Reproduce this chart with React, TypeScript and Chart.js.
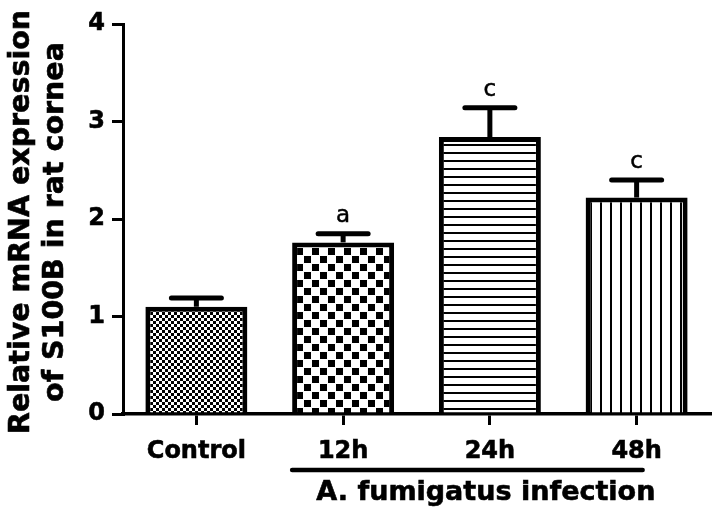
import React, { useEffect, useRef } from "react";
import { Chart, registerables } from "chart.js";

Chart.register(...registerables);

const categories = ["Control", "12h", "24h", "48h"];
const means = [1.1, 1.76, 2.84, 2.22];
const errors = [0.09, 0.09, 0.3, 0.18];
const letters = ["", "a", "c", "c"];
const yTitleLines = ["Relative mRNA expression", "of S100B in rat cornea"];
const groupLabel = "A. fumigatus infection";
const yMin = 0;
const yMax = 4;
const yStep = 1;

const FONT = "'DejaVu Sans', Verdana, sans-serif";

function makePattern(kind: string): CanvasPattern | string {
  const c = document.createElement("canvas");
  const g = c.getContext("2d");
  if (!g) return "#fff";
  if (kind === "fine") {
    c.width = 6; c.height = 6;
    g.fillStyle = "#fff"; g.fillRect(0, 0, 6, 6);
    g.fillStyle = "#000";
    g.fillRect(0, 0, 3, 3); g.fillRect(3, 3, 3, 3);
  } else if (kind === "coarse") {
    c.width = 16; c.height = 16;
    g.fillStyle = "#fff"; g.fillRect(0, 0, 16, 16);
    g.fillStyle = "#000";
    g.fillRect(0, 0, 7, 7); g.fillRect(8, 8, 7, 7);
  } else if (kind === "hlines") {
    c.width = 8; c.height = 8;
    g.fillStyle = "#fff"; g.fillRect(0, 0, 8, 8);
    g.fillStyle = "#000"; g.fillRect(0, 0, 8, 2);
  } else {
    c.width = 10; c.height = 10;
    g.fillStyle = "#fff"; g.fillRect(0, 0, 10, 10);
    g.fillStyle = "#000"; g.fillRect(0, 0, 2, 10);
  }
  const p = g.createPattern(c, "repeat");
  return p || "#fff";
}

function heavyText(ctx: CanvasRenderingContext2D, text: string, x: number, y: number, w: number) {
  ctx.lineWidth = w;
  ctx.lineJoin = "miter";
  ctx.strokeText(text, x, y);
  ctx.fillText(text, x, y);
}

export default function App() {
  const ref = useRef<HTMLCanvasElement | null>(null);
  useEffect(() => {
    if (!ref.current) return;
    const patterns = [makePattern("fine"), makePattern("coarse"), makePattern("hlines"), makePattern("vlines")];

    const overlay = {
      id: "overlay",
      afterDatasetsDraw(chart: any) {
        const ctx = chart.ctx;
        const meta = chart.getDatasetMeta(0);
        const ys = chart.scales.y;
        const xs = chart.scales.x;
        ctx.save();
        ctx.strokeStyle = "#000";
        ctx.fillStyle = "#000";
        meta.data.forEach((bar: any, i: number) => {
          const x = bar.x;
          const yTop = ys.getPixelForValue(means[i]);
          const yErr = ys.getPixelForValue(means[i] + errors[i]);
          ctx.lineWidth = 5;
          ctx.lineCap = "butt";
          ctx.beginPath();
          ctx.moveTo(x, yTop);
          ctx.lineTo(x, yErr);
          ctx.stroke();
          ctx.lineCap = "round";
          ctx.beginPath();
          ctx.moveTo(x - 25, yErr);
          ctx.lineTo(x + 25, yErr);
          ctx.stroke();
          if (letters[i]) {
            ctx.font = `23px ${FONT}`;
            ctx.textAlign = "center";
            ctx.textBaseline = "alphabetic";
            heavyText(ctx, letters[i], x, yErr - 12, 0.5);
          }
        });
        // group underline
        const x1 = xs.getPixelForValue(1) - 51;
        const x2 = xs.getPixelForValue(3) + 6;
        ctx.lineWidth = 4.5;
        ctx.lineCap = "round";
        ctx.beginPath();
        ctx.moveTo(x1, 470);
        ctx.lineTo(x2, 470);
        ctx.stroke();
        ctx.font = `bold 27px ${FONT}`;
        ctx.textAlign = "center";
        ctx.textBaseline = "alphabetic";
        heavyText(ctx, groupLabel, (xs.getPixelForValue(1) + xs.getPixelForValue(3)) / 2 - 4, 500, 0.6);
        // y title
        const cy = (chart.chartArea.top + chart.chartArea.bottom) / 2 + 3;
        ctx.font = `bold 28.5px ${FONT}`;
        ctx.save();
        ctx.translate(0, cy);
        ctx.rotate(-Math.PI / 2);
        ctx.textAlign = "center";
        heavyText(ctx, yTitleLines[0], 0, 29, 0.6);
        heavyText(ctx, yTitleLines[1], 0, 63, 0.6);
        ctx.restore();
        ctx.restore();
      },
    };

    const chart = new Chart(ref.current, {
      type: "bar",
      data: {
        labels: categories,
        datasets: [
          {
            data: means,
            backgroundColor: patterns as any,
            borderColor: "#000",
            borderWidth: 5,
            barPercentage: 0.695,
            categoryPercentage: 1,
          },
        ],
      },
      options: {
        animation: false,
        responsive: false,
        maintainAspectRatio: false,
        layout: { padding: { top: 24, right: 6, left: 0, bottom: 0 } },
        plugins: { legend: { display: false }, tooltip: { enabled: false } },
        scales: {
          x: {
            grid: { drawOnChartArea: false, drawTicks: true, tickLength: 11, lineWidth: 3, color: "#000", offset: false },
            border: { display: true, width: 3.5, color: "#000" },
            ticks: {
              color: "#000",
              font: { family: FONT, size: 24, weight: "bold" },
              padding: 12,
              maxRotation: 0,
              textStrokeColor: "#000",
              textStrokeWidth: 0.6,
            },
            afterFit: (s: any) => { s.height = 104; },
          },
          y: {
            min: yMin,
            max: yMax,
            grid: { drawOnChartArea: false, drawTicks: true, tickLength: 11, lineWidth: 3, color: "#000" },
            border: { display: true, width: 3, color: "#000" },
            ticks: {
              stepSize: yStep,
              color: "#000",
              font: { family: FONT, size: 24, weight: "bold" },
              padding: 7,
              textStrokeColor: "#000",
              textStrokeWidth: 0.6,
            },
            afterFit: (s: any) => { s.width = 123; },
          },
        },
      },
      plugins: [overlay],
    });
    return () => chart.destroy();
  }, []);
  return (
    <div style={{ position: "fixed", left: 0, top: 0, width: 716, height: 518, background: "#fff" }}>
      <canvas ref={ref} width={716} height={518} style={{ width: 716, height: 518 }} />
    </div>
  );
}
